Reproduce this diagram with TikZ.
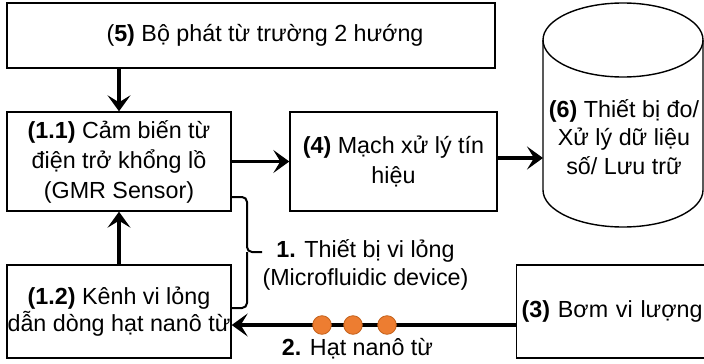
\documentclass[tikz,border=0pt]{standalone}
\usepackage{fontspec}
\setmainfont{Liberation Sans}
\usetikzlibrary{arrows.meta}
\definecolor{dotfill}{HTML}{ED7D31}
\definecolor{dotline}{HTML}{C4621C}
\begin{document}
\begin{tikzpicture}[x=1pt,y=-1pt,
  box/.style={draw, line width=1.4pt, rectangle, inner sep=0pt, align=center,
    font=\fontsize{23.3}{30}\selectfont},
  txt/.style={align=center, inner sep=0pt, font=\fontsize{23.3}{28}\selectfont},
  arr/.style={line width=3.8pt, -{Stealth[length=16pt,width=23pt,inset=7pt]}},
  brace/.style={draw=black, line width=2pt, rounded corners=5pt},
  dot/.style={circle, draw=dotline, line width=0.8pt, fill=dotfill, minimum size=18.6pt, inner sep=0pt}]
\clip (0,0) rectangle (704,364);
\fill[white] (0,0) rectangle (704,364);
% boxes
\node[box, minimum width=488pt, minimum height=65pt] (b5) at (251,35.5)
  {\hspace*{28pt}(\textbf{5)} Bộ phát từ trường 2 hướng};
\node[box, minimum width=224pt, minimum height=99pt] (b11) at (119,161.5)
  {\textbf{(1.1)} Cảm biến từ\\điện trở khổng lồ\\(GMR Sensor)};
\node[box, minimum width=207pt, minimum height=99pt] (b4) at (393.5,161.5)
  {\textbf{(4)} Mạch xử lý tín\\hiệu};
\node[box, minimum width=224pt, minimum height=93pt, font=\fontsize{23.3}{27}\selectfont] (b12) at (119,311.5)
  {\textbf{(1.2)} Kênh vi lỏng\\dẫn dòng hạt nanô từ};
\node[box, anchor=west, minimum height=93pt, text width=210pt, inner xsep=5pt, align=left] (b3) at (516,311.5)
  {\textbf{(3)} Bơm vi lượng};
% cylinder
\draw[line width=1.4pt, fill=white] (543,40) -- (543,190) arc[start angle=180, end angle=360, x radius=80, y radius=-37] -- (703,40);
\draw[line width=1.4pt] (623,40) ellipse[x radius=80, y radius=37];
\node[txt, font=\fontsize{23.3}{28.5}\selectfont] (b6) at (624,137)
  {\textbf{(6)} Thiết bị đo/\\Xử lý dữ liệu\\số/ Lưu trữ};
\coordinate (cylW) at (543,158);
% arrows
\draw[arr] (b11 |- b5.south) -- (b11.north);
\draw[arr] (b12.north) -- (b11.south);
\draw[arr] (b11.east) -- (b4.west);
\draw[arr] (b4.east |- cylW) -- (cylW);
\coordinate (fl) at (400,325);
\draw[arr] (b3.west |- fl) -- (b12.east |- fl);
\node[dot] (p1) at (322,325) {};
\node[dot] (p2) at (353,325) {};
\node[dot] (p3) at (387,325) {};
% brace
\coordinate (bt) at (232,197);
\coordinate (bm) at (247,252);
\coordinate (bb) at (232,308);
\draw[brace] (bt) -| (bm) -- (262,252);
\draw[brace] (bm) |- (bb);
% labels
\node[txt] (l1) at (365.5,265) {\textbf{1.} Thiết bị vi lỏng\\(Microfluidic device)};
\node[txt] (l2) at (357.5,349) {\textbf{2.} Hạt nanô từ};
\end{tikzpicture}
\end{document}
